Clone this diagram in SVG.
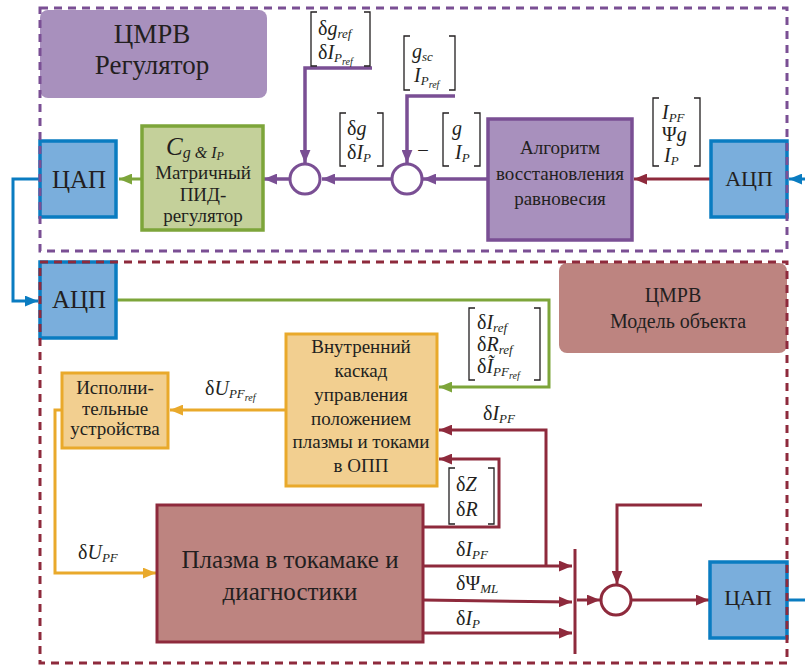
<svg xmlns="http://www.w3.org/2000/svg" width="805" height="669" viewBox="0 0 805 669" font-family="Liberation Serif, serif">
<style>
text{font-family:"Liberation Serif","Times New Roman",serif;fill:#231f20}
.c{text-anchor:middle}
.t27{font-size:27px}
.t25{font-size:25px}
.t22{font-size:22px}
.t20{font-size:20px}
.t19{font-size:19px}
.m{font-size:20px}
.i{font-style:italic}
.s{font-size:13px}
.ss{font-size:10px}
.br{fill:none;stroke:#231f20;stroke-width:1.3}
.pur{fill:none;stroke:#7a4f94;stroke-width:3.5}
.red{fill:none;stroke:#8e2a3c;stroke-width:3}
.blu{fill:none;stroke:#0a7cc1;stroke-width:3}
.grn{fill:none;stroke:#7da53a;stroke-width:3}
.org{fill:none;stroke:#e9a92b;stroke-width:3}
.box-blue{fill:#7aaedc;stroke:#0a7cc1;stroke-width:3.5}
.box-org{fill:#f2cf90;stroke:#e9a92b;stroke-width:3}
.sum-p{fill:#fff;stroke:#7a4f94;stroke-width:3}
.sum-r{fill:#fff;stroke:#8e2a3c;stroke-width:3}
.frame{fill:none;stroke-width:3;stroke-dasharray:8 6}
</style>
<defs>
<marker id="aP" viewBox="0 0 12 10" refX="12" refY="5" markerWidth="13" markerHeight="11" markerUnits="userSpaceOnUse" orient="auto"><path d="M0,0 L12,5 L0,10 z" fill="#7a4f94"/></marker>
<marker id="aR" viewBox="0 0 12 10" refX="12" refY="5" markerWidth="13" markerHeight="11" markerUnits="userSpaceOnUse" orient="auto"><path d="M0,0 L12,5 L0,10 z" fill="#8e2a3c"/></marker>
<marker id="aB" viewBox="0 0 12 10" refX="12" refY="5" markerWidth="13" markerHeight="11" markerUnits="userSpaceOnUse" orient="auto"><path d="M0,0 L12,5 L0,10 z" fill="#0a7cc1"/></marker>
<marker id="aG" viewBox="0 0 12 10" refX="12" refY="5" markerWidth="13" markerHeight="11" markerUnits="userSpaceOnUse" orient="auto"><path d="M0,0 L12,5 L0,10 z" fill="#7da53a"/></marker>
<marker id="aO" viewBox="0 0 12 10" refX="12" refY="5" markerWidth="13" markerHeight="11" markerUnits="userSpaceOnUse" orient="auto"><path d="M0,0 L12,5 L0,10 z" fill="#e9a92b"/></marker>
</defs>
<rect width="805" height="669" fill="#fff"/>

<g id="label-reg">
<rect x="40" y="10" width="227" height="88" rx="8" fill="#a890bd"/>
<text class="t27 c" x="152" y="43">ЦМРВ</text>
<text class="t27 c" x="152" y="74">Регулятор</text>
</g>
<g id="label-model">
<rect x="559" y="263" width="228" height="90" rx="8" fill="#bd8480"/>
<text class="t20 c" x="673" y="302">ЦМРВ</text>
<text class="t20 c" x="678" y="328">Модель объекта</text>
</g>

<g id="connectors">
<path class="grn" d="M142,179 H119" marker-end="url(#aG)"/>
<path class="grn" d="M117,300 H549 V387 H439" marker-end="url(#aG)"/>
<path class="pur" d="M290,179 H264" marker-end="url(#aP)"/>
<path class="pur" d="M392,179 H322" marker-end="url(#aP)"/>
<path class="pur" d="M487,179 H423" marker-end="url(#aP)"/>
<path class="pur" d="M372,68 H305 V163" marker-end="url(#aP)"/>
<path class="pur" d="M455,96 H407 V163" marker-end="url(#aP)"/>
<path class="blu" d="M806,179 H789" marker-end="url(#aB)"/>
<path class="blu" d="M40,179 H13 V301 H38" marker-end="url(#aB)"/>
<path class="blu" d="M787,600 H806"/>
<path class="org" d="M286,410 H170" marker-end="url(#aO)"/>
<path class="org" d="M62,410 H55 V573 H156" marker-end="url(#aO)"/>
<path class="red" d="M711,179 H634" marker-end="url(#aR)"/>
<path class="red" d="M546,566 V430 H439" marker-end="url(#aR)"/>
<path class="red" d="M423,527 H499 V459 H439" marker-end="url(#aR)"/>
<path class="red" d="M423,566 H572" marker-end="url(#aR)"/>
<path class="red" d="M423,600 L572,602" marker-end="url(#aR)"/>
<path class="red" d="M423,633 H572" marker-end="url(#aR)"/>
<path class="red" d="M575,549 V654"/>
<path class="red" d="M577,600 H600" marker-end="url(#aR)"/>
<path class="red" d="M702,505 H617 V584" marker-end="url(#aR)"/>
<path class="red" d="M632,600 H709" marker-end="url(#aR)"/>
</g>

<g id="dac-top">
<rect x="40" y="141" width="76" height="76" class="box-blue"/>
<text class="t25 c" x="79" y="188">ЦАП</text>
</g>
<g id="pid">
<rect x="142" y="126" width="121" height="104" fill="#c4d09a" stroke="#7da53a" stroke-width="3.5"/>
<text class="i" x="166" y="155"><tspan font-size="25">C</tspan><tspan font-size="16" dy="3">g &amp; I</tspan><tspan font-size="12" dy="2">P</tspan></text>
<text class="t19 c" x="203" y="179">Матричный</text>
<text class="t19 c" x="203" y="201">ПИД-</text>
<text class="t19 c" x="203" y="222">регулятор</text>
</g>
<g id="sum1"><circle cx="305" cy="179" r="15" class="sum-p"/></g>
<g id="sum2">
<circle cx="407" cy="179" r="15" class="sum-p"/>
<text class="t19 c" x="423" y="155">–</text>
</g>
<g id="algo">
<rect x="488" y="119" width="144" height="121" fill="#a890bd" stroke="#7a4f94" stroke-width="3.5"/>
<text class="t19 c" x="560" y="154">Алгоритм</text>
<text class="t19 c" x="560" y="180">восстановления</text>
<text class="t19 c" x="560" y="205">равновесия</text>
</g>
<g id="adc-top">
<rect x="711" y="141" width="76" height="76" class="box-blue"/>
<text class="t22 c" x="749" y="186">АЦП</text>
</g>
<g id="adc-bottom">
<rect x="40" y="262" width="76" height="76" class="box-blue"/>
<text class="t25 c" x="79" y="308">АЦП</text>
</g>
<g id="inner">
<rect x="286" y="334" width="151" height="152" class="box-org"/>
<text class="t19 c" x="361" y="353">Внутренний</text>
<text class="t19 c" x="361" y="377">каскад</text>
<text class="t19 c" x="361" y="401">управления</text>
<text class="t19 c" x="361" y="425">положением</text>
<text class="t19 c" x="361" y="448">плазмы и токами</text>
<text class="t19 c" x="361" y="472">в ОПП</text>
</g>
<g id="actuators">
<rect x="62" y="373" width="106" height="75" class="box-org"/>
<text class="t19 c" x="115" y="394">Исполни-</text>
<text class="t19 c" x="115" y="415">тельные</text>
<text class="t19 c" x="115" y="435">устройства</text>
</g>
<g id="plasma">
<rect x="157" y="505" width="266" height="137" fill="#bd8480" stroke="#8e2a3c" stroke-width="3"/>
<text class="t25 c" x="290" y="568">Плазма в токамаке и</text>
<text class="t25 c" x="290" y="600">диагностики</text>
</g>
<g id="sum3"><circle cx="616" cy="600" r="15" class="sum-r"/></g>
<g id="dac-bottom">
<rect x="710" y="562" width="77" height="76" class="box-blue"/>
<text class="t22 c" x="748" y="605">ЦАП</text>
</g>

<g id="vec-ref">
<path class="br" d="M317,12 H311 V66 H317 M364,12 H370 V66 H364"/>
<text class="m" x="318" y="35">δ<tspan class="i">g</tspan><tspan class="i s" dy="3">ref</tspan></text>
<text class="m" x="318" y="59">δ<tspan class="i">I</tspan><tspan class="i s" dy="3">P</tspan><tspan class="i ss" dy="3">ref</tspan></text>
</g>
<g id="vec-sc">
<path class="br" d="M410,36 H404 V90 H410 M449,36 H455 V90 H449"/>
<text class="m" x="412" y="58"><tspan class="i">g</tspan><tspan class="i s" dy="3">sc</tspan></text>
<text class="m" x="414" y="82"><tspan class="i">I</tspan><tspan class="i s" dy="3">P</tspan><tspan class="i ss" dy="3">ref</tspan></text>
</g>
<g id="vec-dg">
<path class="br" d="M346,113 H340 V166 H346 M377,113 H383 V166 H377"/>
<text class="m" x="347" y="135">δ<tspan class="i">g</tspan></text>
<text class="m" x="347" y="159">δ<tspan class="i">I</tspan><tspan class="i s" dy="3">P</tspan></text>
</g>
<g id="vec-g">
<path class="br" d="M449,113 H443 V166 H449 M474,113 H480 V166 H474"/>
<text class="m i" x="452" y="135">g</text>
<text class="m i" x="455" y="159">I<tspan class="s" dy="3">P</tspan></text>
</g>
<g id="vec-meas">
<path class="br" d="M659,98 H653 V166 H659 M694,98 H700 V166 H694"/>
<text class="m i" x="662" y="119">I<tspan class="s" dy="3">PF</tspan></text>
<text class="m" x="662" y="141">Ψ<tspan class="i">g</tspan></text>
<text class="m i" x="664" y="162">I<tspan class="s" dy="3">P</tspan></text>
</g>
<g id="vec-inner-ref">
<path class="br" d="M475,308 H469 V380 H475 M534,308 H540 V380 H534"/>
<text class="m" x="477" y="329">δ<tspan class="i">I</tspan><tspan class="i s" dy="3">ref</tspan></text>
<text class="m" x="477" y="351">δ<tspan class="i">R</tspan><tspan class="i s" dy="3">ref</tspan></text>
<text class="m" x="477" y="373">δ<tspan class="i">Ĩ</tspan><tspan class="i s" dy="3">PF</tspan><tspan class="i ss" dy="3">ref</tspan></text>
</g>
<g id="vec-zr">
<path class="br" d="M455,468 H449 V524 H455 M488,468 H494 V524 H488"/>
<text class="m" x="456" y="491">δ<tspan class="i">Z</tspan></text>
<text class="m" x="456" y="516">δ<tspan class="i">R</tspan></text>
</g>
<g id="signal-labels">
<text class="m" x="205" y="395">δ<tspan class="i">U</tspan><tspan class="i s" dy="3">PF</tspan><tspan class="i ss" dy="3">ref</tspan></text>
<text class="m" x="483" y="420">δ<tspan class="i">I</tspan><tspan class="i s" dy="3">PF</tspan></text>
<text class="m" x="78" y="559">δ<tspan class="i">U</tspan><tspan class="i s" dy="3">PF</tspan></text>
<text class="m" x="456" y="556">δ<tspan class="i">I</tspan><tspan class="i s" dy="3">PF</tspan></text>
<text class="m" x="456" y="590">δΨ<tspan class="i s" dy="3">ML</tspan></text>
<text class="m" x="456" y="625">δ<tspan class="i">I</tspan><tspan class="i s" dy="3">P</tspan></text>
</g>

<g id="regulator-frame"><rect x="40" y="8" width="747" height="243" class="frame" stroke="#7a4f94"/></g>
<g id="model-frame"><rect x="40" y="262" width="747" height="401" class="frame" stroke="#8e2a3c"/></g>
</svg>
